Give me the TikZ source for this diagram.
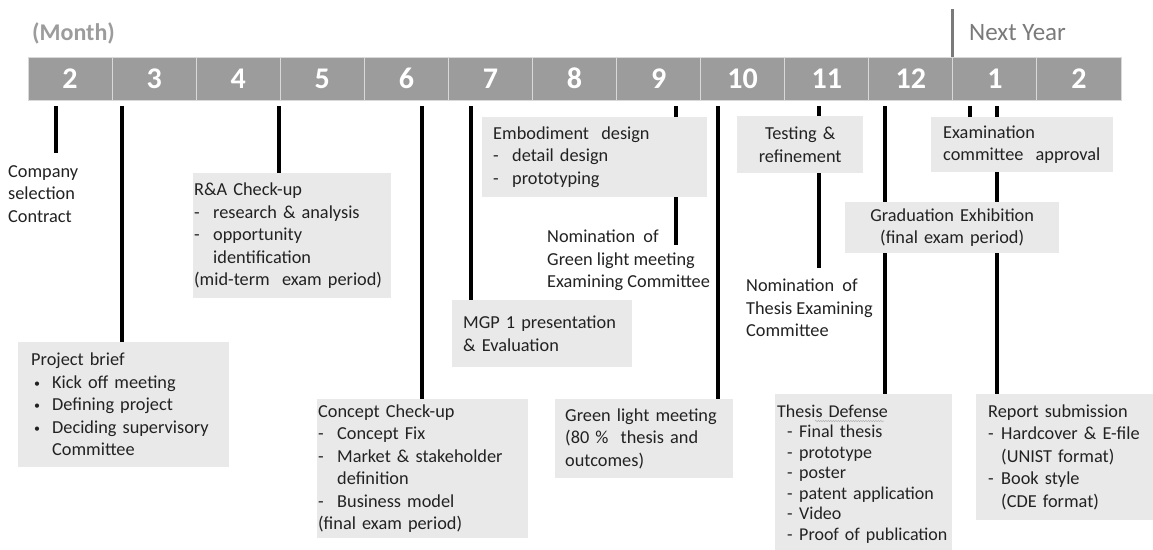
\documentclass[tikz,border=0pt]{standalone}
\usepackage{fontspec}
\setmainfont{Carlito}
\usetikzlibrary{decorations.pathmorphing}

\definecolor{bargray}{HTML}{9C9C9C}
\definecolor{boxgray}{HTML}{E9E9E9}
\definecolor{labelgray}{HTML}{7A7A7A}
\definecolor{ink}{HTML}{222222}

\newcommand{\bodysize}{\fontsize{18.3}{22.5}\selectfont}
\newcommand{\hy}{\makebox[19pt][l]{-}}
\newcommand{\thy}{\hspace*{10pt}\makebox[12pt][l]{-}}
\newcommand{\rhy}{\makebox[13pt][l]{-}}
\newcommand{\bl}{\makebox[21pt][l]{\hspace{3pt}\raisebox{1pt}{\fontsize{12}{12}\selectfont\textbullet}}}

\begin{document}
\begin{tikzpicture}[x=1pt, y=-1pt,
    month/.style={fill=bargray, draw=white!85!black, line width=1pt,
      minimum width=84.1pt, minimum height=43pt, inner sep=0pt,
      text=white, font=\fontsize{30}{30}\selectfont\bfseries},
    box/.style={fill=boxgray, inner xsep=0pt, inner ysep=0pt,
      anchor=north west, text=ink, font=\bodysize, align=left},
    pad/.style={execute at begin node={\leftskip=#1pt\relax}},
    plain/.style={inner sep=0pt, anchor=west, text=ink, font=\bodysize, align=left},
    tick/.style={line width=3.3pt, black}]

    \fill[white] (0,0) rectangle (1153,549);
    \useasboundingbox (0,0) rectangle (1153,549);

    % month bar
    \foreach \m [count=\i from 0] in {2,3,4,5,6,7,8,9,10,11,12,1,2}
        \node[month] (m\i) at (70.05+84.08*\i, 78.5) {\m};

    \node[inner sep=0pt, anchor=west, text=bargray,
        font=\fontsize{24}{24}\selectfont\bfseries] (monthlbl) at (32,33) {(Month)};

    % next year marker
    \draw[line width=2.5pt, labelgray] (m11.north west) -- ++(0,-48);
    \node[inner sep=0pt, anchor=west, text=labelgray,
        font=\fontsize{25}{25}\selectfont] (nextyr) at (969,33) {Next Year};

    % milestones
    \node[plain] (comp) at (8,194) {Company\\selection\\Contract};

    \node[box, pad=13, text width=211pt, minimum height=125pt] (pb) at (18,342)
        {Project brief\\\bl Kick off meeting\\\bl Defining project\\
         \bl Deciding supervisory\\\hspace*{21pt}Committee};

    \node[box, pad=1, text width=198pt, minimum height=125pt] (ra) at (193,173)
        {R\&A Check-up\\\hy research \& analysis\\\hy opportunity\\
         \hspace*{19pt}identification\\(mid-term\ \ exam period)};

    \node[box, pad=1, text width=211pt, minimum height=139pt] (cc) at (317,399)
        {Concept Check-up\\\hy Concept Fix\\\hy Market \& stakeholder\\
         \hspace*{19pt}definition\\\hy Business model\\(final exam period)};

    \node[box, pad=11, text width=225pt, minimum height=80pt] (em) at (482,117)
        {Embodiment\ \ design\\\hy detail design\\\hy prototyping};

    \node[box, pad=11, text width=180pt, minimum height=67pt] (mgp) at (452,300)
        {MGP 1 presentation\\\& Evaluation};

    \node[plain] (nomgl) at (547,260.5)
        {Nomination\ \ of\\Green light meeting\\Examining Committee};

    \node[box, pad=10, text width=178pt, minimum height=79pt] (gl) at (555,399)
        {Green light meeting\\(80 \%\ \ thesis and\\outcomes)};

    \node[box, align=center, text width=126pt, minimum height=57pt] (ts) at (737,116)
        {Testing \&\\refinement};

    \node[plain] (nomth) at (746,308)
        {Nomination\ \ of\\Thesis Examining\\Committee};

    \node[box, pad=2, text width=177pt, minimum height=159pt,
        font=\fontsize{18}{20.5}\selectfont] (th) at (775,394)
        {Thesis Defense\\\thy Final thesis\\\thy prototype\\\thy poster\\
         \thy patent application\\\thy Video\\\thy Proof of publication};
    \draw[decorate, decoration={snake, amplitude=0.7pt, segment length=2.5pt},
        gray!60, line width=0.5pt] (815,421) -- (884,421);

    \node[box, pad=12, text width=182pt, minimum height=55pt] (ex) at (931,117)
        {Examination\\committee\ \ approval};

    \node[box, align=center, text width=214pt, minimum height=51pt] (gr) at (845,202)
        {Graduation Exhibition\\(final exam period)};

    \node[box, pad=12, text width=180pt, minimum height=126pt] (rp) at (976,394)
        {Report submission\\\rhy Hardcover \& E-file\\\hspace*{13pt}(UNIST format)\\
         \rhy Book style\\\hspace*{13pt}(CDE format)};

    % ticks down from the bar
    \coordinate (t2) at (56,106);
    \coordinate (t2e) at (56,153);
    \coordinate (t3) at (122,106);
    \coordinate (t4) at (279,106);
    \coordinate (t6) at (422,106);
    \coordinate (t7) at (471,106);
    \coordinate (t9) at (676,106);
    \coordinate (t9e) at (676,245);
    \coordinate (t10) at (718,106);
    \coordinate (t11) at (819,106);
    \coordinate (t11e) at (819,268);
    \coordinate (t12) at (885,106);
    \coordinate (t1a) at (970,106);
    \coordinate (t1b) at (997,106);

    \draw[tick] (t2) -- (t2e);
    \draw[tick] (t3) -- (t3 |- pb.north);
    \draw[tick] (t4) -- (t4 |- ra.north);
    \draw[tick] (t6) -- (t6 |- cc.north);
    \draw[tick] (t7) -- (t7 |- mgp.north);
    \draw[tick] (t9) -- (t9 |- em.north) (t9 |- em.south) -- (t9e);
    \draw[tick] (t10) -- (t10 |- gl.north);
    \draw[tick] (t11) -- (t11 |- ts.north) (t11 |- ts.south) -- (t11e);
    \draw[tick] (t12) -- (t12 |- gr.north) (t12 |- gr.south) -- (t12 |- th.north);
    \draw[tick] (t1a) -- (t1a |- ex.north);
    \draw[tick] (t1b) -- (t1b |- ex.north) (t1b |- ex.south) -- (t1b |- gr.north)
        (t1b |- gr.south) -- (t1b |- rp.north);
\end{tikzpicture}
\end{document}
